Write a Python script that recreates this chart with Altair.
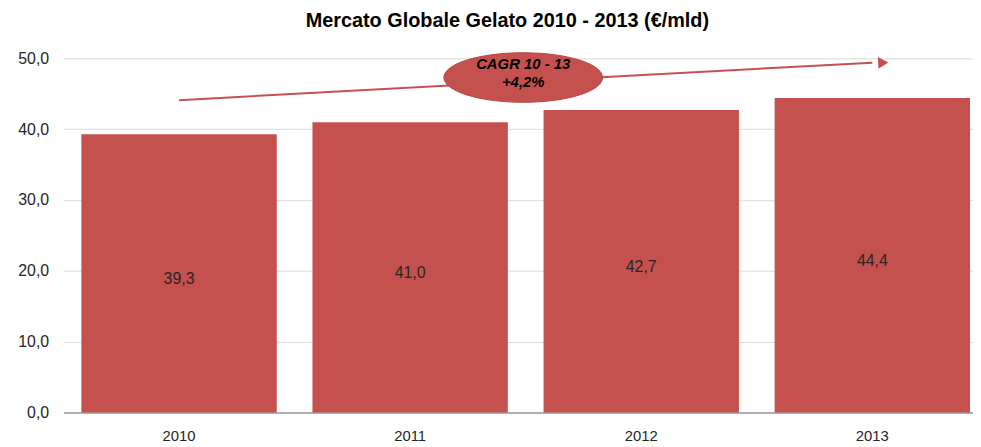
import altair as alt
import pandas as pd

# ---- data ----
years = ["2010", "2011", "2012", "2013"]
values = [39.3, 41.0, 42.7, 44.4]

title_text = "Mercato Globale Gelato 2010 - 2013 (€/mld)"

# CAGR annotation (arrow from first to last year, label ellipse)
arrow_years = ["2010", "2013"]
arrow_values = [44.1, 49.4]
cagr_year = "2011"
cagr_value = 47.3
cagr_lines = ["CAGR 10 - 13", "+4,2%"]

RED = "#c4514e"
TXT = "#262626"
FONT = "Liberation Sans"

bars_df = pd.DataFrame({"year": years, "value": values})
arrow_df = pd.DataFrame({"year": arrow_years, "value": arrow_values})
tip_df = pd.DataFrame({"year": [arrow_years[-1]], "value": [arrow_values[-1]]})
cagr_df = pd.DataFrame({"year": [cagr_year], "value": [cagr_value],
                        "label": [cagr_lines]})

x_scale = alt.Scale(paddingInner=0.1545, paddingOuter=0.045, align=0.857)
y_scale = alt.Scale(domain=[0, 50])

x_enc = alt.X("year:N", scale=x_scale, sort=years,
              axis=alt.Axis(title=None, labelAngle=0, ticks=False,
                            domainColor="#9a9a9a", domainWidth=1.5,
                            labelFontSize=15, labelColor=TXT, labelFont=FONT,
                            labelPadding=16))
y_enc = alt.Y("value:Q", scale=y_scale,
              axis=alt.Axis(title=None, values=[0, 10, 20, 30, 40, 50],
                            labelExpr="replace(format(datum.value, '.1f'), '.', ',')",
                            ticks=False, domain=False, gridColor="#d9d9d9",
                            labelFontSize=16, labelColor=TXT, labelFont=FONT,
                            labelPadding=15))

bars = alt.Chart(bars_df).mark_bar(color=RED).encode(x=x_enc, y=y_enc)

labels = alt.Chart(bars_df).transform_calculate(
    mid="datum.value / 2",
    txt="replace(format(datum.value, '.1f'), '.', ',')",
).mark_text(fontSize=16, color=TXT, font=FONT, baseline="middle", dy=6).encode(
    x=alt.X("year:N", sort=years),
    y=alt.Y("mid:Q"),
    text="txt:N",
)

arrow_line = alt.Chart(arrow_df).mark_line(color=RED, strokeWidth=2).encode(
    x=alt.X("year:N", sort=years), y="value:Q"
)
arrow_tip = alt.Chart(tip_df).mark_point(
    shape="triangle-right", filled=True, color=RED, opacity=1, size=140,
    xOffset=11, angle=357
).encode(x=alt.X("year:N", sort=years), y="value:Q")

ellipse = alt.Chart(cagr_df).mark_point(
    shape="M-1,0A1,0.3125,0,1,1,1,0A1,0.3125,0,1,1,-1,0Z",
    filled=True, color=RED, opacity=1, size=160 * 160, xOffset=114,
    stroke="#b84845", strokeWidth=1
).encode(x=alt.X("year:N", sort=years), y="value:Q")

cagr_text = alt.Chart(cagr_df).mark_text(
    fontSize=15, fontWeight="bold", fontStyle="italic", color="#000000",
    font=FONT, xOffset=114, dy=-14, lineHeight=19,
    baseline="middle"
).encode(x=alt.X("year:N", sort=years), y="value:Q", text="label")

chart = alt.layer(bars, labels, arrow_line, arrow_tip, ellipse, cagr_text).properties(
    width=917, height=357,
    title=alt.TitleParams(title_text, fontSize=20, fontWeight="bold", font=FONT,
                          color="#000000", anchor="middle", offset=20, dx=-11),
    padding={"left": 9, "top": 1, "right": 0, "bottom": 0},
).configure_view(stroke=None)

chart.save("out.html", embed_options={"renderer": "svg", "actions": False})
